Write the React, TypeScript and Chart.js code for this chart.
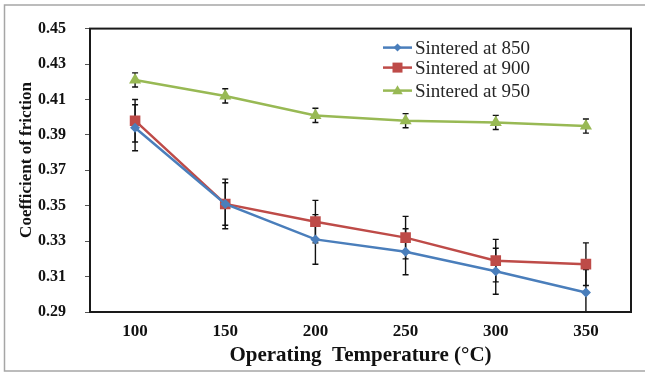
import React, { useEffect, useRef } from "react";
import { Chart, registerables } from "chart.js";

Chart.register(...registerables);

const categories = ["100", "150", "200", "250", "300", "350"];
const yTicks = [0.29, 0.31, 0.33, 0.35, 0.37, 0.39, 0.41, 0.43, 0.45];

const labels850 = "Sintered at 850";
const labels900 = "Sintered at 900";
const labels950 = "Sintered at 950";

const values850 = [0.394, 0.351, 0.331, 0.324, 0.313, 0.301];
const values900 = [0.398, 0.351, 0.341, 0.332, 0.319, 0.317];
const values950 = [0.421, 0.412, 0.401, 0.398, 0.397, 0.395];

const err850 = [0.013, 0.012, 0.014, 0.013, 0.013, 0.013];
const err900 = [0.012, 0.014, 0.012, 0.012, 0.012, 0.012];
const err950 = [0.004, 0.004, 0.004, 0.004, 0.004, 0.004];

const yTitle = "Coefficient of friction";
const xTitle = "Operating  Temperature (°C)";

const BLUE = "#4a7ebb";
const RED = "#be4b48";
const GREEN = "#98b954";
const SERIF = '"Liberation Serif", "Times New Roman", serif';

const errorsByDataset = [err850, err900, err950];

function drawMarker(ctx: CanvasRenderingContext2D, style: string, x: number, y: number, r: number, color: string) {
  ctx.save();
  ctx.fillStyle = color;
  ctx.beginPath();
  if (style === "rectRot") {
    ctx.moveTo(x, y - r);
    ctx.lineTo(x + r, y);
    ctx.lineTo(x, y + r);
    ctx.lineTo(x - r, y);
    ctx.closePath();
  } else if (style === "rect") {
    ctx.rect(x - r, y - r, 2 * r, 2 * r);
  } else {
    const h = r * 1.8;
    ctx.moveTo(x, y - h * 0.6);
    ctx.lineTo(x + r * 1.05, y + h * 0.4);
    ctx.lineTo(x - r * 1.05, y + h * 0.4);
    ctx.closePath();
  }
  ctx.fill();
  ctx.restore();
}

const framePlugin = {
  id: "frameAndExtras",
  beforeDraw(chart: any) {
    const ctx = chart.ctx as CanvasRenderingContext2D;
    ctx.save();
    ctx.fillStyle = "#ffffff";
    ctx.fillRect(0, 0, chart.width, chart.height);
    ctx.strokeStyle = "#a6a6a6";
    ctx.lineWidth = 1.5;
    ctx.beginPath();
    ctx.moveTo(chart.width + 2, 5);
    ctx.lineTo(4.5, 5);
    ctx.lineTo(4.5, 371);
    ctx.lineTo(chart.width + 2, 371);
    ctx.stroke();
    ctx.restore();
  },
  beforeDatasetsDraw(chart: any) {
    const ctx = chart.ctx as CanvasRenderingContext2D;
    const area = chart.chartArea;
    const xs = chart.scales.x;
    const ys = chart.scales.y;
    ctx.save();
    ctx.beginPath();
    ctx.rect(area.left, area.top, area.right - area.left, area.bottom - area.top);
    ctx.clip();
    ctx.strokeStyle = "#111";
    ctx.lineWidth = 1.4;
    chart.data.datasets.forEach((ds: any, di: number) => {
      const errs = errorsByDataset[di];
      ds.data.forEach((v: number, i: number) => {
        const x = xs.getPixelForValue(i);
        const yHi = ys.getPixelForValue(v + errs[i]);
        const yLo = ys.getPixelForValue(v - errs[i]);
        ctx.beginPath();
        ctx.moveTo(x, yHi);
        ctx.lineTo(x, yLo);
        ctx.moveTo(x - 3, yHi);
        ctx.lineTo(x + 3, yHi);
        ctx.moveTo(x - 3, yLo);
        ctx.lineTo(x + 3, yLo);
        ctx.stroke();
      });
    });
    ctx.restore();
  },
  afterDraw(chart: any) {
    const ctx = chart.ctx as CanvasRenderingContext2D;
    const area = chart.chartArea;
    ctx.save();
    ctx.strokeStyle = "#1a1a1a";
    ctx.lineWidth = 2;
    ctx.strokeRect(area.left, area.top, area.right - area.left, area.bottom - area.top);
    // y title
    ctx.save();
    ctx.translate(27, 160);
    ctx.rotate(-Math.PI / 2);
    ctx.fillStyle = "#111";
    ctx.font = `bold 17px ${SERIF}`;
    ctx.textAlign = "center";
    ctx.textBaseline = "middle";
    ctx.fillText(yTitle, 0, 0);
    ctx.restore();
    // legend
    const lx0 = area.right - 248;
    const lx1 = area.right - 219;
    const rows = [area.top + 19, area.top + 39, area.top + 62];
    const styles = ["rectRot", "rect", "triangle"];
    const sizes = [4, 5, 5];
    chart.data.datasets.forEach((ds: any, i: number) => {
      const y = rows[i];
      ctx.strokeStyle = ds.borderColor;
      ctx.lineWidth = 2.5;
      ctx.beginPath();
      ctx.moveTo(lx0, y);
      ctx.lineTo(lx1, y);
      ctx.stroke();
      drawMarker(ctx, styles[i], (lx0 + lx1) / 2, y, sizes[i], ds.borderColor);
      ctx.fillStyle = "#262626";
      ctx.font = `19px ${SERIF}`;
      ctx.textAlign = "left";
      ctx.textBaseline = "middle";
      ctx.fillText(ds.label, lx1 + 3, y + 1);
    });
    ctx.restore();
  },
};

export default function App() {
  const ref = useRef<HTMLCanvasElement | null>(null);
  useEffect(() => {
    if (!ref.current) return;
    const chart = new Chart(ref.current, {
      type: "line",
      data: {
        labels: categories,
        datasets: [
          {
            label: labels850,
            data: values850,
            borderColor: BLUE,
            backgroundColor: BLUE,
            borderWidth: 2.5,
            pointStyle: "rectRot",
            pointRadius: 5,
            pointBorderWidth: 0,
            fill: false,
            tension: 0,
          },
          {
            label: labels900,
            data: values900,
            borderColor: RED,
            backgroundColor: RED,
            borderWidth: 2.5,
            pointStyle: "rect",
            pointRadius: 7.5,
            pointBorderWidth: 0,
            fill: false,
            tension: 0,
          },
          {
            label: labels950,
            data: values950,
            borderColor: GREEN,
            backgroundColor: GREEN,
            borderWidth: 2.5,
            pointStyle: "triangle",
            pointRadius: 7,
            pointBorderWidth: 0,
            fill: false,
            tension: 0,
          },
        ],
      },
      options: {
        responsive: false,
        animation: false,
        layout: { padding: { top: 26, right: 14, left: 0, bottom: 0 } },
        plugins: { legend: { display: false }, tooltip: { enabled: false } },
        scales: {
          x: {
            type: "category",
            offset: true,
            grid: { display: false, drawTicks: false },
            border: { display: false },
            ticks: {
              color: "#111",
              font: { family: SERIF, size: 17, weight: "bold" },
              padding: 9,
              maxRotation: 0,
            },
            title: {
              display: true,
              text: xTitle,
              color: "#111",
              font: { family: SERIF, size: 21, weight: "bold" },
              padding: { top: 0, bottom: 5 },
            },
            afterFit(scale: any) {
              scale.height = 61;
            },
          },
          y: {
            min: 0.29,
            max: 0.45,
            grid: { display: true, drawOnChartArea: false, drawTicks: true, tickLength: 5, color: "#555" },
            border: { display: false },
            afterBuildTicks(scale: any) {
              scale.ticks = yTicks.map((v) => ({ value: v }));
            },
            ticks: {
              color: "#111",
              font: { family: SERIF, size: 16, weight: "bold" },
              padding: 19,
              callback: (v: any) => Number(v).toFixed(2),
            },
            title: { display: false },
            afterFit(scale: any) {
              scale.width = 90;
            },
          },
        },
      },
      plugins: [framePlugin],
    });
    return () => chart.destroy();
  }, []);
  return (
    <div style={{ position: "fixed", left: 0, top: 0, width: 645, height: 373 }}>
      <canvas ref={ref} width={645} height={373} style={{ display: "block" }} />
    </div>
  );
}
